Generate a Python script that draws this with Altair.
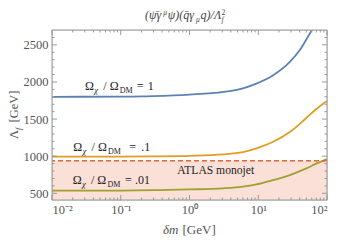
import altair as alt
import pandas as pd

FONT = "Liberation Serif"
W, H = 275, 170

# ---- data ----
blue_dm = [0.01, 0.1, 0.3, 1, 3.1, 6, 9.4, 16.5, 28.8, 40, 56, 65]
blue_lam = [1800, 1803, 1810, 1830, 1866, 1915, 1978, 2090, 2269, 2426, 2650, 2750]

orange_dm = [0.01, 0.1, 0.3, 1, 3.1, 6, 9.4, 16.5, 28.8, 50, 70, 100]
orange_lam = [993, 995, 998, 1005, 1024, 1055, 1105, 1194, 1325, 1515, 1635, 1745]

green_dm = [0.01, 0.1, 0.3, 1, 3.1, 6, 9.4, 16.5, 28.8, 50, 71, 100]
green_lam = [535, 537, 542, 552, 567, 590, 621, 679, 746, 836, 903, 960]

series_names = ["1", ".1", ".01"]
series_colors = ["#5e81b5", "#e19c24", "#8fb032"]

atlas_limit = 938
x_domain = [0.01, 100]
y_domain = [410, 2700]

x_major = [0.01, 0.1, 1, 10, 100]
x_labels = ["10⁻²", "10⁻¹", "10⁰", "10¹", "10²"]
x_minor = [m * d for d in [0.01, 0.1, 1, 10] for m in range(2, 10)]
y_major = [500, 1000, 1500, 2000, 2500]
y_minor = [v for v in range(500, 2700, 100) if v % 500 != 0]

# label anchors (data units) for the Omega labels
lab_x = [0.0302, 0.0204, 0.0200]
lab_y = [1898, 1075, 625]
lab_val = ["1", ".1", ".01"]
lab_eq_dx = [51.7, 56, 52.3]
lab_val_dx = [62.7, 68, 62.3]
atlas_x, atlas_y = 2.40, 766

xs = alt.Scale(type="log", domain=x_domain, nice=False)
ys = alt.Scale(domain=y_domain, nice=False, zero=False)

curves = pd.concat([
    pd.DataFrame({"dm": blue_dm, "lam": blue_lam, "s": series_names[0]}),
    pd.DataFrame({"dm": orange_dm, "lam": orange_lam, "s": series_names[1]}),
    pd.DataFrame({"dm": green_dm, "lam": green_lam, "s": series_names[2]}),
])

label_expr = "[" + ",".join("'%s'" % l for l in x_labels) + "][round(log(datum.value)/LN10)+2]"

lines = alt.Chart(curves).mark_line(strokeWidth=1.8, clip=True, interpolate="monotone").encode(
    x=alt.X("dm:Q", scale=xs, axis=alt.Axis(values=x_major, labelExpr=label_expr, ticks=False, tickSize=0,
                                            domain=False, grid=False, title=None, labelFont=FONT,
                                            labelFontSize=12.5, labelColor="#555", labelPadding=3)),
    y=alt.Y("lam:Q", scale=ys, axis=alt.Axis(values=y_major, format="d", ticks=False, tickSize=0,
                                             domain=False, grid=False, title=None, labelFont=FONT,
                                             labelFontSize=12.5, labelColor="#555", labelPadding=4)),
    color=alt.Color("s:N", scale=alt.Scale(domain=series_names, range=series_colors), legend=None),
)

band = alt.Chart(pd.DataFrame({"x0": [x_domain[0]], "x1": [x_domain[1]], "y": [atlas_limit]})).mark_rect(
    color="#eb6235", opacity=0.2).encode(
    x=alt.X("x0:Q", scale=xs, title=None), x2="x1", y=alt.Y("y:Q", scale=ys, title=None), y2=alt.value(H))

limit = alt.Chart(pd.DataFrame({"y": [atlas_limit]})).mark_rule(
    color="#eb6235", strokeWidth=1.5, strokeDash=[5, 3]).encode(y=alt.Y("y:Q", scale=ys, title=None))


def txt(text, x, y, dx=0, dy=0, size=12.0, align="left", angle=0, style="normal", color="#222", pixel=False):
    if pixel:
        data = pd.DataFrame({"a": [0]})
        enc = dict(x=alt.value(x), y=alt.value(y))
    else:
        data = pd.DataFrame({"x": [x], "y": [y]})
        enc = dict(x=alt.X("x:Q", scale=xs, title=None), y=alt.Y("y:Q", scale=ys, title=None))
    kw = dict(text=text, dx=dx, dy=dy, fontSize=size, align=align, baseline="alphabetic",
              font=FONT, fontStyle=style, color=color)
    if angle:
        kw["angle"] = angle
    return alt.Chart(data).mark_text(**kw).encode(**enc)


texts = []
for lx, ly, lv, edx, vdx in zip(lab_x, lab_y, lab_val, lab_eq_dx, lab_val_dx):
    texts += [
        txt("Ω", lx, ly, 0, 0, 12),
        txt("χ", lx, ly, 9.3, 3, 8.5, style="italic"),
        txt("/ Ω", lx, ly, 18.3, 0, 12),
        txt("DM", lx, ly, 34.7, 3, 8),
        txt("=", lx, ly, edx, 0, 12),
        txt(lv, lx, ly, vdx, 0, 12),
    ]
texts.append(txt("ATLAS monojet", atlas_x, atlas_y, 0, 0, 11.6, align="center"))

# title (pixel placement relative to plot area)
tx, ty, tc = 93, -11, "#444"
texts += [
    txt("(ψ\u0304γ", tx, ty, 0, 0, 12, style="italic", color=tc, pixel=True),
    txt("μ", tx, ty, 18.3, -4.5, 7.5, style="italic", color=tc, pixel=True),
    txt("ψ)(q\u0304γ", tx, ty, 22.8, 0, 12, style="italic", color=tc, pixel=True),
    txt("μ", tx, ty, 51.1, 3, 7.5, style="italic", color=tc, pixel=True),
    txt("q)/Λ", tx, ty, 55.6, 0, 12, style="italic", color=tc, pixel=True),
    txt("2", tx, ty, 76.4, -4.5, 7.5, color=tc, pixel=True),
    txt("f", tx, ty, 76.4, 3, 7.5, style="italic", color=tc, pixel=True),
]
# axis titles
ac = "#555"
texts += [
    txt("δm", 111, H + 34, 0, 0, 13, style="italic", color=ac, pixel=True),
    txt("[GeV]", 111, H + 34, 19.5, 0, 13, color=ac, pixel=True),
    txt("Λ", -34, 109, 0, 0, 12.5, angle=270, color=ac, pixel=True),
    txt("f", -34, 109, 8.9, 2.5, 8.5, angle=270, style="italic", color=ac, pixel=True),
    txt("[GeV]", -34, 109, 16.5, 0, 12.5, angle=270, color=ac, pixel=True),
]

# inward frame ticks
TC = "#999"
MAJ, MIN = 5, 2.5
xmaj = alt.Chart(pd.DataFrame({"v": x_major}))
xmin = alt.Chart(pd.DataFrame({"v": x_minor}))
ymaj = alt.Chart(pd.DataFrame({"v": y_major}))
ymin = alt.Chart(pd.DataFrame({"v": y_minor}))
ticks = []
for ch, L in [(xmaj, MAJ), (xmin, MIN)]:
    ticks.append(ch.mark_rule(color=TC, strokeWidth=1).encode(
        x=alt.X("v:Q", scale=xs, title=None), y=alt.value(H), y2=alt.value(H - L)))
    ticks.append(ch.mark_rule(color=TC, strokeWidth=1).encode(
        x=alt.X("v:Q", scale=xs, title=None), y=alt.value(0), y2=alt.value(L)))
for ch, L in [(ymaj, MAJ), (ymin, MIN)]:
    ticks.append(ch.mark_rule(color=TC, strokeWidth=1).encode(
        y=alt.Y("v:Q", scale=ys, title=None), x=alt.value(0), x2=alt.value(L)))
    ticks.append(ch.mark_rule(color=TC, strokeWidth=1).encode(
        y=alt.Y("v:Q", scale=ys, title=None), x=alt.value(W), x2=alt.value(W - L)))

frame = alt.Chart(pd.DataFrame({"a": [0]})).mark_rect(fill=None, stroke="#999", strokeWidth=1).encode(
    x=alt.value(0), x2=alt.value(W), y=alt.value(0), y2=alt.value(H))

chart = alt.layer(lines, band, limit, *texts, *ticks, frame).properties(
    width=W, height=H, autosize="none",
    padding={"left": 44, "top": 22, "right": 15, "bottom": 42},
).configure_view(stroke=None).configure(background="white")

chart.save("out.html", embed_options={"renderer": "svg", "actions": False})
